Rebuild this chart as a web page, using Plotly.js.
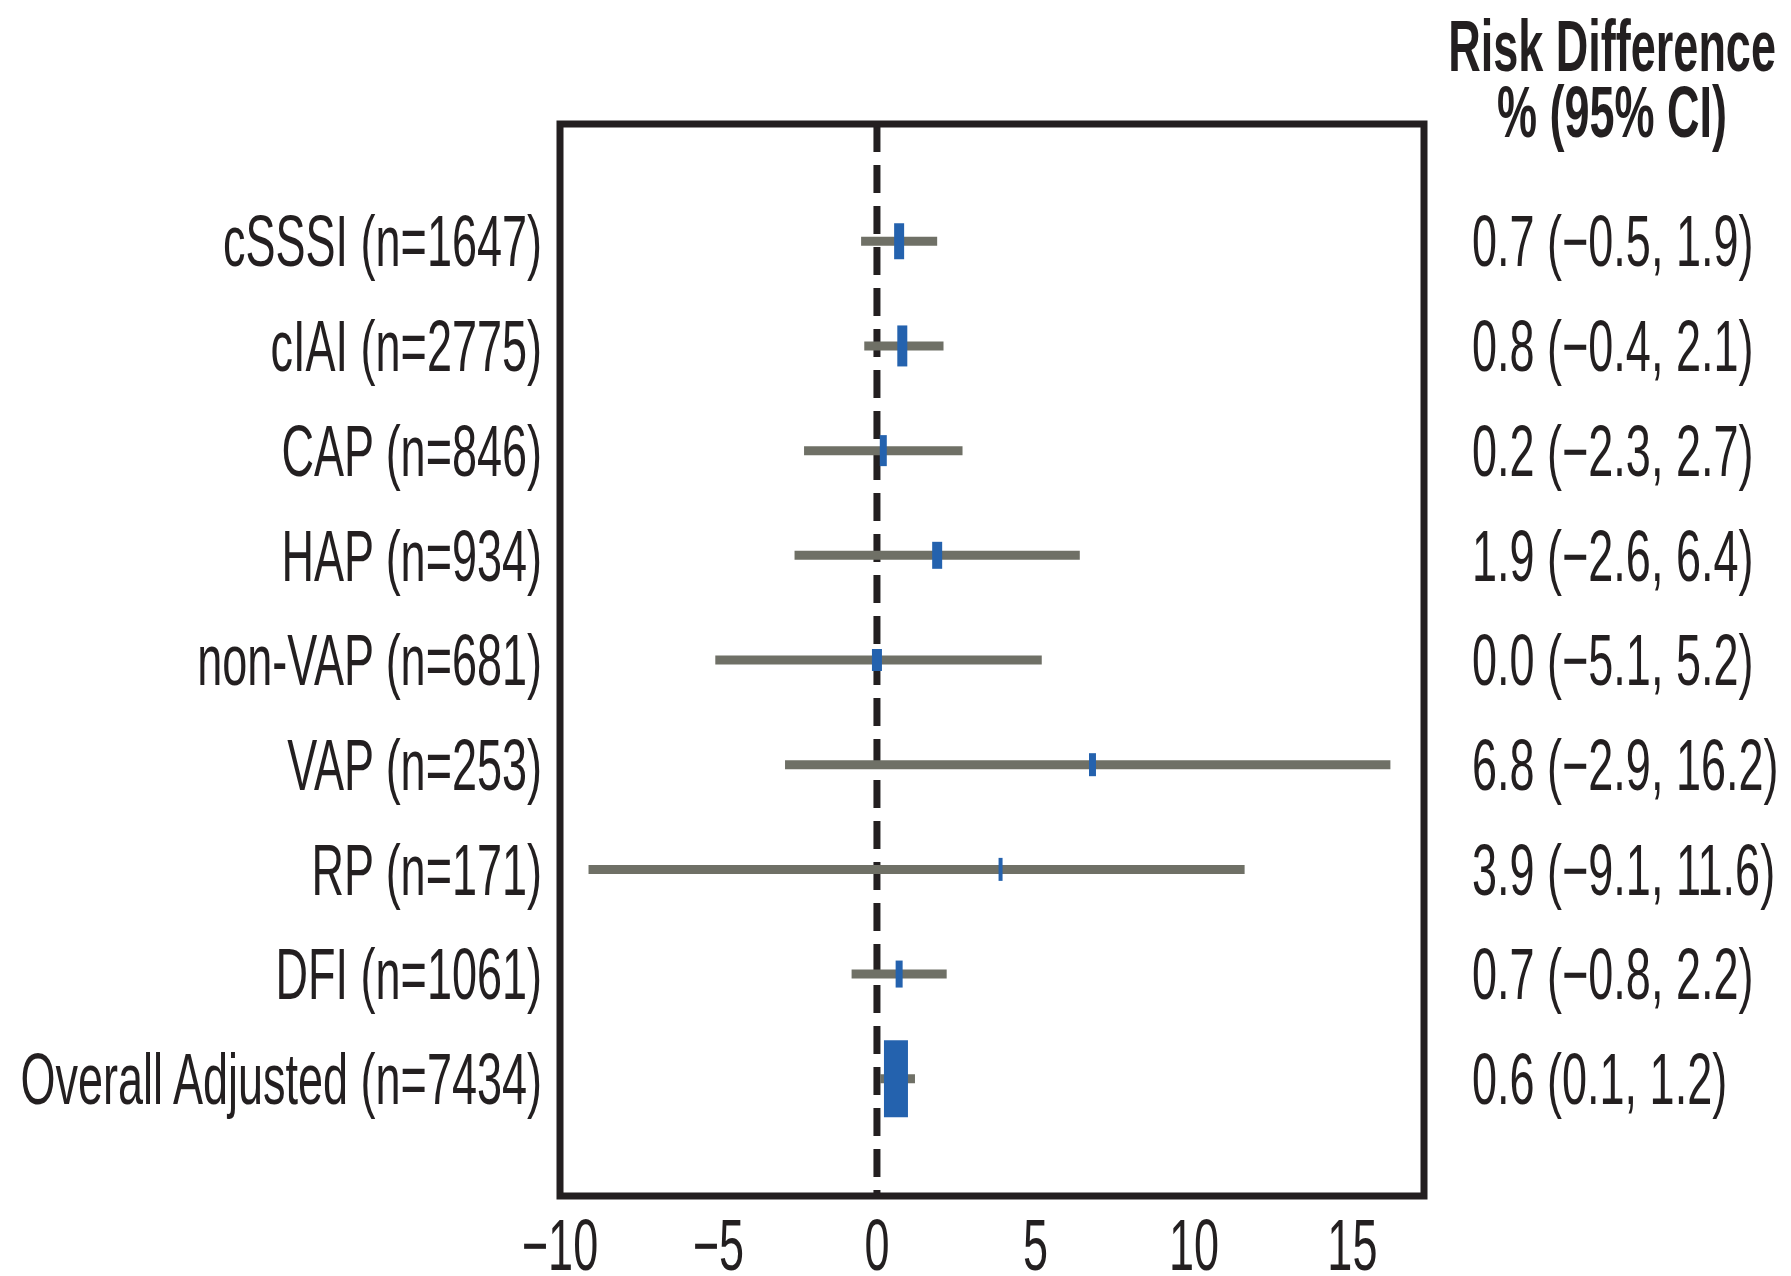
<!DOCTYPE html>
<html>
<head>
<meta charset="utf-8">
<script src="https://cdn.plot.ly/plotly-3.0.1.min.js"></script>
<style>
  html, body { margin: 0; padding: 0; background: #ffffff; }
  #chart { width: 1791px; height: 1276px; }
</style>
</head>
<body>
<div id="chart"></div>
<script>
// ---- Data ----
var groups = ['cSSSI', 'cIAI', 'CAP', 'HAP', 'non-VAP', 'VAP', 'RP', 'DFI', 'Overall Adjusted'];
var nPatients = [1647, 2775, 846, 934, 681, 253, 171, 1061, 7434];
var riskDiff = [0.7, 0.8, 0.2, 1.9, 0.0, 6.8, 3.9, 0.7, 0.6];
var ciLower = [-0.5, -0.4, -2.3, -2.6, -5.1, -2.9, -9.1, -0.8, 0.1];
var ciUpper = [1.9, 2.1, 2.7, 6.4, 5.2, 16.2, 11.6, 2.2, 1.2];
var xTickVals = [-10, -5, 0, 5, 10, 15];
var xTickText = ['\u221210', '\u22125', '0', '5', '10', '15'];
var headerLines = ['Risk Difference', '% (95% CI)'];

// ---- Styles (marker box sizes in px, kept apart from the data) ----
var markerHeightPx = [36, 41, 31, 27, 22, 23, 23, 27, 77];
var markerWidthPx = [10, 10, 7, 10, 10, 7, 4, 7, 24];

var DARK = '#231f20';
var GRAY = '#6f7066';
var BLUE = '#2462ae';
var FONT = '"Liberation Sans", Arial, sans-serif';
var FS = 72;
var CONDENSE = 0.625; // horizontal squeeze to mimic a condensed typeface

var rows = groups.map(function (g, i) { return i + 1; });
var labels = groups.map(function (g, i) { return g + ' (n=' + nPatients[i] + ')'; });
function fmt(v) { return v.toFixed(1).replace('-', '\u2212'); }
var ciText = rows.map(function (r, i) {
  return fmt(riskDiff[i]) + ' (' + fmt(ciLower[i]) + ', ' + fmt(ciUpper[i]) + ')';
});

var ciTrace = {
  type: 'scatter',
  mode: 'markers',
  x: riskDiff,
  y: rows,
  marker: { size: 1, opacity: 0 },
  error_x: {
    type: 'data',
    symmetric: false,
    array: riskDiff.map(function (v, i) { return ciUpper[i] - v; }),
    arrayminus: riskDiff.map(function (v, i) { return v - ciLower[i]; }),
    color: GRAY,
    thickness: 9,
    width: 0
  },
  hoverinfo: 'skip',
  showlegend: false
};

var estTrace = {
  type: 'scatter',
  mode: 'markers',
  x: riskDiff,
  y: rows,
  marker: {
    symbol: 'line-ns',
    size: markerHeightPx.map(function (h) { return h / 1.4; }),
    opacity: 1,
    color: BLUE,
    line: { color: BLUE, width: markerWidthPx }
  },
  showlegend: false
};

// invisible trace that anchors the right-hand label axis
var rightAxisTrace = {
  type: 'scatter',
  mode: 'markers',
  x: riskDiff,
  y: rows,
  yaxis: 'y2',
  marker: { size: 1, opacity: 0 },
  hoverinfo: 'skip',
  showlegend: false
};

var yRange = [10.12, -0.12];

var layout = {
  width: 1791,
  height: 1276,
  margin: { l: 560, r: 367, t: 124, b: 80, pad: 0 },
  paper_bgcolor: '#ffffff',
  plot_bgcolor: '#ffffff',
  font: { family: FONT, size: FS, color: DARK },
  xaxis: {
    range: [-10, 17.26],
    tickvals: xTickVals,
    ticktext: xTickText,
    ticks: '',
    showgrid: false,
    zeroline: false,
    showline: false,
    ticklabelstandoff: 1,
    tickfont: { family: FONT, size: FS, color: DARK },
    fixedrange: true
  },
  yaxis: {
    range: yRange,
    tickvals: rows,
    ticktext: labels,
    ticks: '',
    showgrid: false,
    zeroline: false,
    showline: false,
    ticklabelstandoff: 17,
    tickfont: { family: FONT, size: FS, color: DARK },
    fixedrange: true
  },
  yaxis2: {
    overlaying: 'y',
    side: 'right',
    range: yRange,
    tickvals: rows,
    ticktext: ciText,
    ticks: '',
    showgrid: false,
    zeroline: false,
    showline: false,
    ticklabelstandoff: 47,
    tickfont: { family: FONT, size: FS, color: DARK },
    fixedrange: true
  },
  shapes: [
    {
      type: 'line', layer: 'below',
      xref: 'x', yref: 'paper',
      x0: 0, x1: 0, y0: 1, y1: 0,
      line: { color: DARK, width: 7, dash: '28px,13px' }
    },
    {
      type: 'rect', layer: 'above',
      xref: 'paper', yref: 'paper',
      x0: 0, x1: 1, y0: 0, y1: 1,
      line: { color: DARK, width: 7 },
      fillcolor: 'rgba(0,0,0,0)'
    }
  ],
  annotations: [
    {
      xref: 'paper', yref: 'paper',
      x: 1.2176, y: 1.0728,
      xanchor: 'center', yanchor: 'middle',
      text: headerLines[0],
      showarrow: false,
      font: { family: FONT, size: FS, color: DARK, weight: 'bold' }
    },
    {
      xref: 'paper', yref: 'paper',
      x: 1.2176, y: 1.0112,
      xanchor: 'center', yanchor: 'middle',
      text: headerLines[1],
      showarrow: false,
      font: { family: FONT, size: FS, color: DARK, weight: 'bold' }
    }
  ]
};

Plotly.newPlot('chart', [ciTrace, estTrace, rightAxisTrace], layout, { displayModeBar: false, staticPlot: true })
  .then(function (gd) {
    var texts = gd.querySelectorAll('text');
    Array.prototype.forEach.call(texts, function (t) {
      if (!t.textContent) return;
      var w = t.getComputedTextLength();
      if (w > 0) {
        t.setAttribute('textLength', (w * CONDENSE).toFixed(2));
        t.setAttribute('lengthAdjust', 'spacingAndGlyphs');
      }
    });
  });
</script>
</body>
</html>
